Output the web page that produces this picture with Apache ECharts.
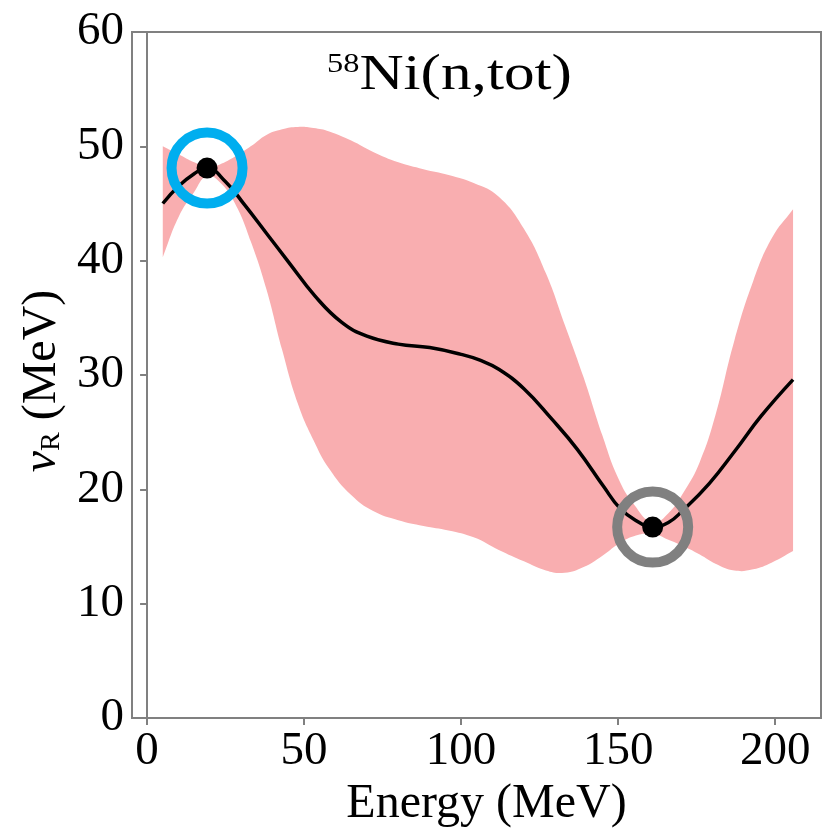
<!DOCTYPE html>
<html><head><meta charset="utf-8">
<script src="https://cdn.jsdelivr.net/npm/echarts@6/dist/echarts.min.js"></script>
<style>html,body{margin:0;padding:0;background:#fff}#c{width:823px;height:838px}</style>
</head><body><div id="c"></div>
<script>
// Central curve
const energy = [5,10,15,19,25,31,38,45,53.5,62,70,80,90,100,106,112,120,128.7,137,145.5,150.4,155.5,161,166,170.4,179,187.3,195.5,205.7];
const nuR    = [45,46.5,47.6,48.1,46.9,44.9,42.4,39.9,36.9,34.6,33.4,32.7,32.4,31.8,31.3,30.5,28.8,26.2,23.5,20.2,18.4,17.3,16.7,17.1,18.1,20.5,23.4,26.4,29.6];
// Uncertainty band
const bandEnergy = [5,10,15,19,23,28,33,38,43,48,53,58,65,72,80,88,96,104,112,120,127,133,139,145,150,155,161,166,171,176,181,187,193,199,205.7];
const bandUpper  = [50.0,49.3,48.6,48.2,48.4,49.1,50.0,51.0,51.5,51.7,51.6,51.3,50.5,49.5,48.6,48.0,47.5,46.8,45.6,42.8,38.9,34.4,29.8,24.7,21.0,18.7,17.1,17.9,19.8,22.4,26.5,33.0,38.2,42.0,44.5];
const bandLower  = [40.3,43.8,46.0,47.4,46.9,45.0,41.7,37.5,32.2,27.5,24.3,21.8,19.5,18.1,17.3,16.8,16.4,15.8,14.7,13.7,12.9,12.7,13.2,14.2,15.2,15.9,16.1,15.6,15.0,14.3,13.5,12.9,13.0,13.6,14.6];
// Highlighted extrema
const extremaEnergy = [19.1, 161];
const extremaNu = [48.1, 16.7];
// Ticks
const xTicks = [0,50,100,150,200];
const yTicks = [0,10,20,30,40,50,60];

const FONT = "'Liberation Serif','Times New Roman',serif";
const chart = echarts.init(document.getElementById('c'), null, {renderer:'canvas'});

const bandData = bandEnergy.map((e,i)=>[e, bandLower[i], bandUpper[i]]);
const lineData = energy.map((e,i)=>[e, nuR[i]]);
const dotData = extremaEnergy.map((e,i)=>[e, extremaNu[i]]);

chart.setOption({
  animation:false,
  backgroundColor:'#fff',
  graphic:[{
    type:'text', x:327, y:50, scaleX:1.2, z:10,
    style:{
      text:'{sup|58}{m|Ni(n,tot)}', verticalAlign:'top', align:'left',
      rich:{
        sup:{fontFamily:FONT,fontSize:27,fontWeight:'normal',fill:'#000',padding:[0,0,22,0]},
        m:{fontFamily:FONT,fontSize:51,fontWeight:'normal',fill:'#000'}
      }
    }
  }],
  grid:{left:132,right:2,top:32,bottom:120,show:true,borderColor:'#808080',borderWidth:2,backgroundColor:'transparent'},
  xAxis:{
    type:'value', min:-4.8, max:214.6,
    name:'Energy (MeV)', nameLocation:'middle', nameGap:62,
    nameTextStyle:{fontFamily:FONT,fontSize:48,color:'#000',padding:[0,0,0,20]},
    axisLine:{show:true,lineStyle:{color:'#808080',width:2}},
    axisTick:{show:true,length:7,lineStyle:{color:'#808080',width:2},customValues:xTicks},
    axisLabel:{fontFamily:FONT,fontSize:47,color:'#000',margin:10,customValues:xTicks},
    splitLine:{show:false}
  },
  yAxis:{
    type:'value', min:0, max:60, interval:10,
    name:'{nu|ν}{sub|R}{n| (MeV)}', nameLocation:'middle', nameGap:64, nameRotate:90,
    nameTextStyle:{
      padding:[0,12,0,0],
      rich:{
        nu:{fontFamily:FONT,fontSize:48,fontStyle:'italic',color:'#000'},
        sub:{fontFamily:FONT,fontSize:28,color:'#000',padding:[20,0,0,0]},
        n:{fontFamily:FONT,fontSize:48,color:'#000'}
      }
    },
    axisLine:{show:true,lineStyle:{color:'#808080',width:2}},
    axisTick:{show:true,length:7,lineStyle:{color:'#808080',width:2}},
    axisLabel:{fontFamily:FONT,fontSize:47,color:'#000',margin:8,
      formatter:v=> yTicks.includes(v)? String(v):''},
    splitLine:{show:false}
  },
  series:[
    {type:'custom', name:'band', data:bandData, silent:true, z:1,
      encode:{x:0,y:[1,2]},
      renderItem:function(params, api){
        if (params.dataIndex !== 0) return null;
        const up = bandData.map(d=>api.coord([d[0], d[2]]));
        const lo = bandData.map(d=>api.coord([d[0], d[1]]));
        // duplicate end points so the vertical cut ends stay straight
        const pts = [up[0]].concat(up, [up[up.length-1]], [lo[lo.length-1]], lo.slice().reverse(), [lo[0]]);
        return {type:'polygon', shape:{points:pts, smooth:0.45}, style:{fill:'#F9AEB0'}};
      }
    },
    {type:'line',name:'nuR',data:lineData,smooth:0.45,symbol:'none',
      lineStyle:{color:'#000',width:3.5},z:3},
    {type:'scatter',data:dotData,symbol:'circle',symbolSize:21,itemStyle:{color:'#000',opacity:1},z:4},
    {type:'scatter',data:[dotData[0]],symbol:'circle',symbolSize:71,
      itemStyle:{color:'rgba(0,0,0,0)',borderColor:'#00AEEF',borderWidth:10,opacity:1},z:5},
    {type:'scatter',data:[dotData[1]],symbol:'circle',symbolSize:71,
      itemStyle:{color:'rgba(0,0,0,0)',borderColor:'#808080',borderWidth:10,opacity:1},z:5}
  ]
});
</script></body></html>
